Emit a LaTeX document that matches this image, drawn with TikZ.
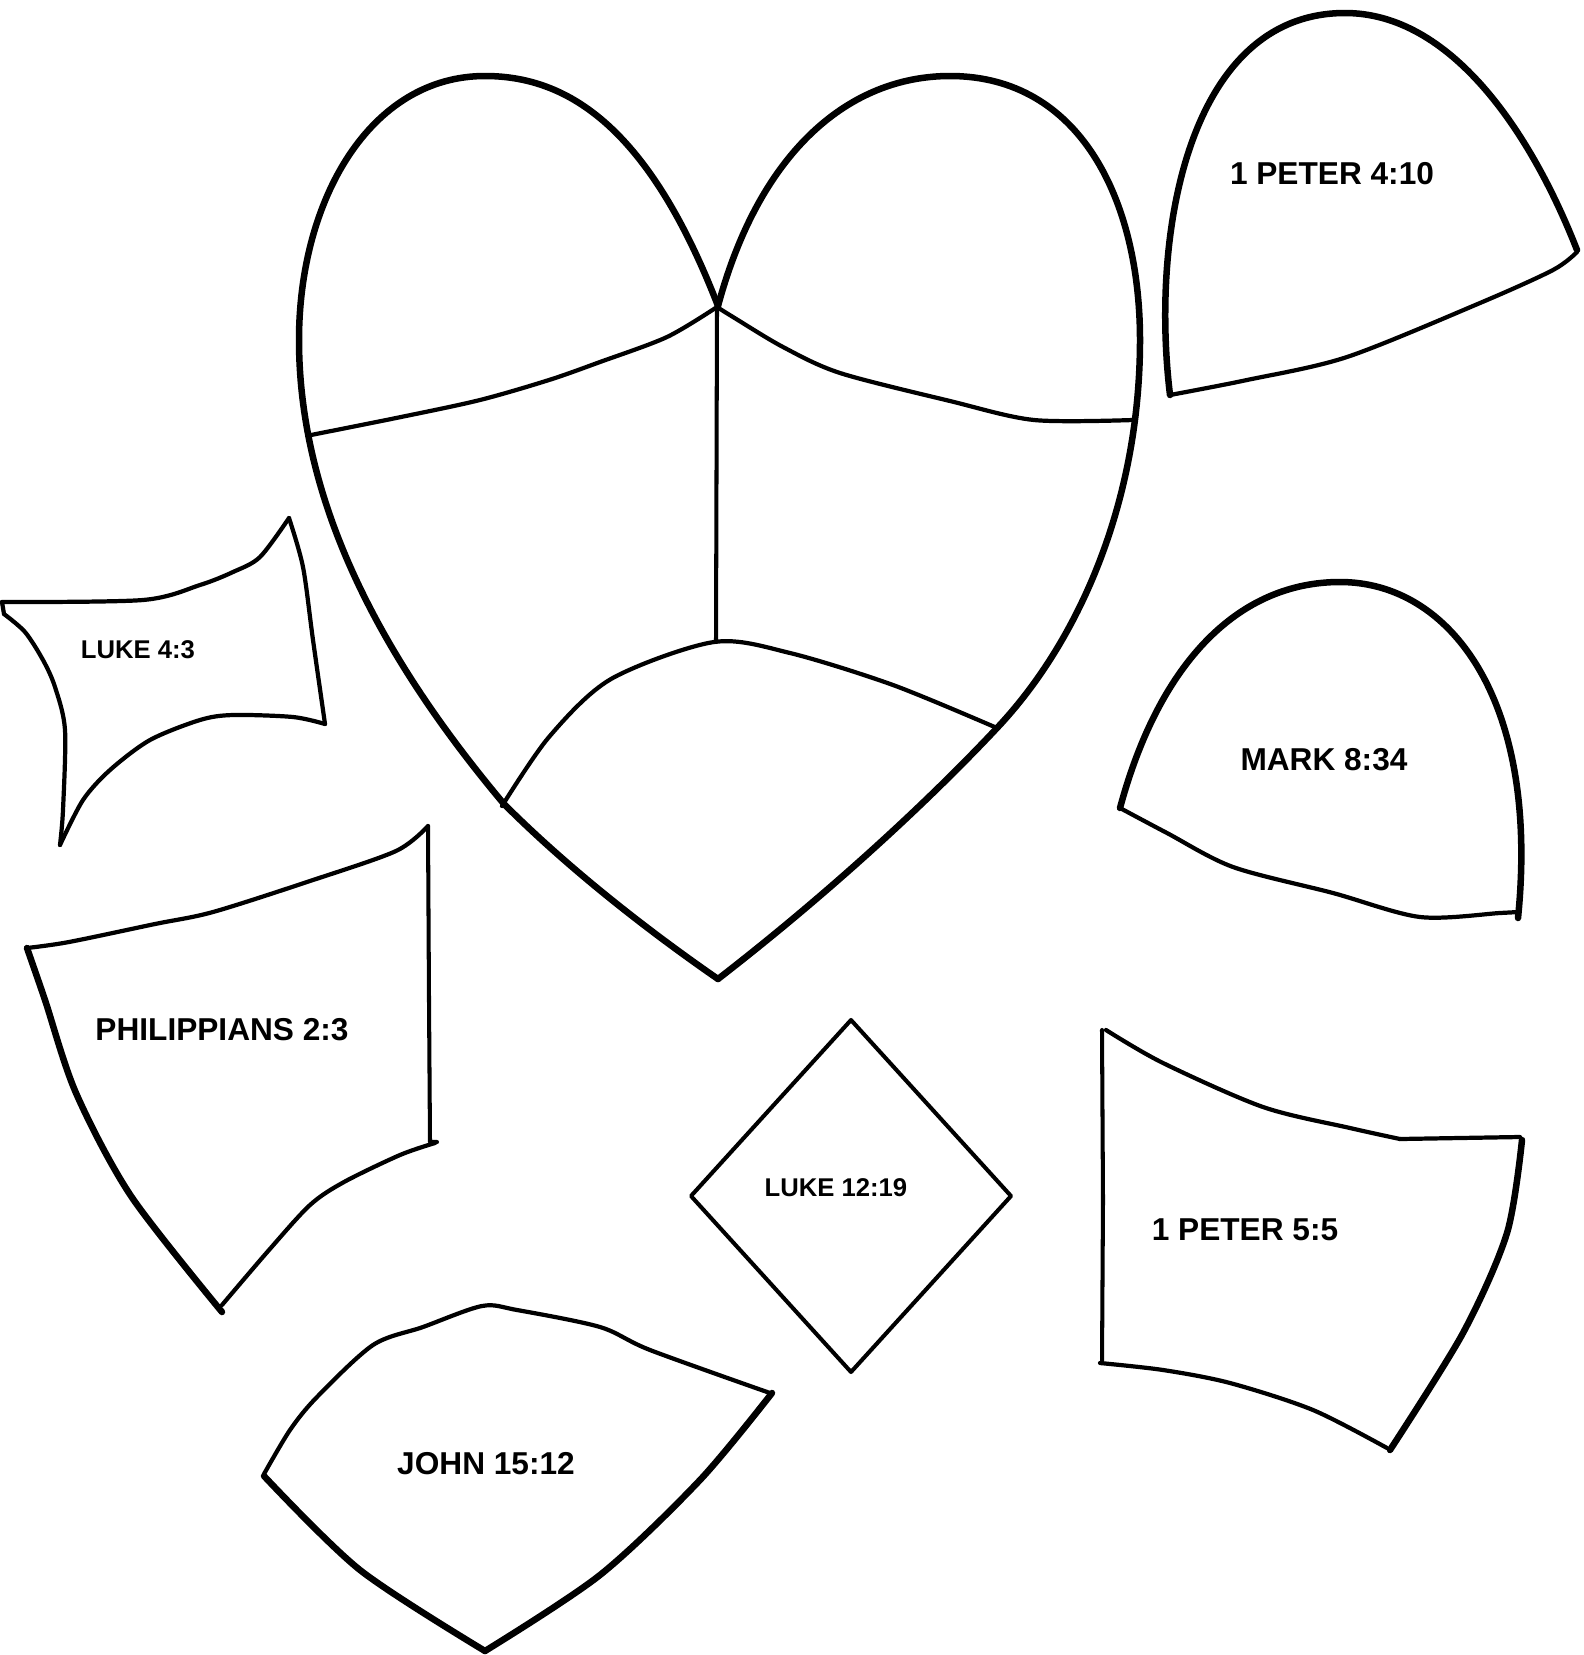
\documentclass[tikz,border=0pt]{standalone}
\usepackage{fontspec}
\setmainfont{Liberation Sans}

\begin{document}
\begin{tikzpicture}[x=0.1mm, y=-0.1mm,
    outline/.style={line width=1.85pt, line join=round, line cap=round},
    thinline/.style={line width=1.15pt, line join=round, line cap=round},
    seam/.style={line width=1.2pt, line join=round, line cap=round},
    verse/.style={font=\bfseries\fontsize{9}{11}\selectfont},
    smallverse/.style={font=\bfseries\fontsize{7.3}{9}\selectfont}]
    \useasboundingbox (0,0) rectangle (1584,1655);

    % Heart outline
    \draw[outline] (718,306) .. controls (650,130) and (570,76) .. (485,76)
        .. controls (370,76) and (299,200) .. (299,340)
        .. controls (299,520) and (400,680) .. (504,804)
        .. controls (570,870) and (650,932) .. (718,979);
    \draw[outline] (718,306) .. controls (760,150) and (850,76) .. (950,76)
        .. controls (1080,76) and (1140,200) .. (1140,340)
        .. controls (1140,500) and (1080,640) .. (997,728)
        .. controls (920,810) and (820,900) .. (718,979);

    % Heart pieces
    \draw[seam] plot[smooth] coordinates {(311,435) (401,417) (480,400) (549,380) (600,362) (667,337) (717,307)};
    \draw[seam] plot[smooth] coordinates {(717,307) (733,317) (783,347) (840,373) (950,401) (1034,420) (1133,420)};
    \draw[thinline] (717,307) -- (716,642);
    \draw[seam] plot[smooth] coordinates {(502,806) (549,737) (611,679) (714,642) (790,653) (893,685) (997,728)};

    % 1 Peter 4:10
    \draw[outline] (1170,395) .. controls (1150,230) and (1190,13) .. (1345,13)
        .. controls (1450,13) and (1530,130) .. (1577,250);
    \draw[seam] plot[smooth] coordinates {(1577,252) (1553,270) (1480,303) (1347,357) (1247,380) (1170,395)};
    \node[verse] (peterTen) at (1332,174) {1 PETER 4:10};

    % Mark 8:34
    \draw[outline] (1120,808) .. controls (1160,660) and (1240,582) .. (1340,582)
        .. controls (1450,582) and (1540,700) .. (1518,918);
    \draw[seam] plot[smooth] coordinates {(1518,912) (1500,913) (1420,917) (1333,893) (1233,867) (1167,833) (1120,808)};
    \node[verse] (markVerse) at (1324,760) {MARK 8:34};

    % Luke 4:3
    \draw[seam] plot[smooth] coordinates {(2,602) (143,600) (200,585) (233,572) (260,557) (289,518)};
    \draw[seam] plot[smooth] coordinates {(289,518) (303,567) (313,640) (325,724)};
    \draw[seam] plot[smooth] coordinates {(325,724) (293,717) (233,715) (200,720) (150,740) (110,770) (83,800) (60,845)};
    \draw[seam] plot[smooth] coordinates {(60,845) (63,810) (65,730) (55,687) (43,660) (25,632) (4,614)};
    \draw[seam] (4,614) -- (2,602);
    \node[smallverse] (lukeFour) at (138,650) {LUKE 4:3};

    % Philippians 2:3
    \draw[seam] plot[smooth] coordinates {(27,948) (69,942) (155,924) (213,912) (310,881) (396,851) (428,826)};
    \draw[thinline] (428,826) -- (429,1000) -- (430,1142) -- (437,1142);
    \draw[seam] plot[smooth] coordinates {(435,1143) (400,1155) (344,1182) (310,1205) (269,1250) (222,1305)};
    \draw[outline] plot[smooth] coordinates {(222,1312) (131,1196) (76,1093) (45,1000) (27,948)};
    \node[verse] (philippians) at (222,1030) {PHILIPPIANS 2:3};

    % Luke 12:19
    \draw[thinline] (851,1020) -- (1011,1196) -- (851,1372) -- (691,1196) -- cycle;
    \node[smallverse] (lukeTwelve) at (836,1188) {LUKE 12:19};

    % 1 Peter 5:5
    \draw[seam] plot[smooth] coordinates {(1106,1030) (1163,1063) (1263,1107) (1350,1128) (1400,1139)};
    \draw[seam] (1400,1139) -- (1520,1137);
    \draw[outline] plot[smooth] coordinates {(1522,1140) (1507,1233) (1463,1333) (1390,1450)};
    \draw[seam] plot[smooth] coordinates {(1387,1448) (1313,1410) (1230,1383) (1163,1370) (1100,1363)};
    \draw[thinline] (1102,1363) -- (1103,1200) -- (1102,1030);
    \node[verse] (peterFive) at (1245,1230) {1 PETER 5:5};

    % John 15:12
    \draw[seam] plot[smooth] coordinates {(264,1474) (290,1430) (317,1397) (373,1345) (423,1327) (482,1306) (517,1310) (600,1327) (650,1350) (770,1393)};
    \draw[outline] plot[smooth] coordinates {(772,1393) (700,1480) (600,1575) (485,1651)};
    \draw[outline] plot[smooth] coordinates {(485,1651) (360,1570) (264,1476)};
    \node[verse] (johnVerse) at (486,1464) {JOHN 15:12};
\end{tikzpicture}
\end{document}
